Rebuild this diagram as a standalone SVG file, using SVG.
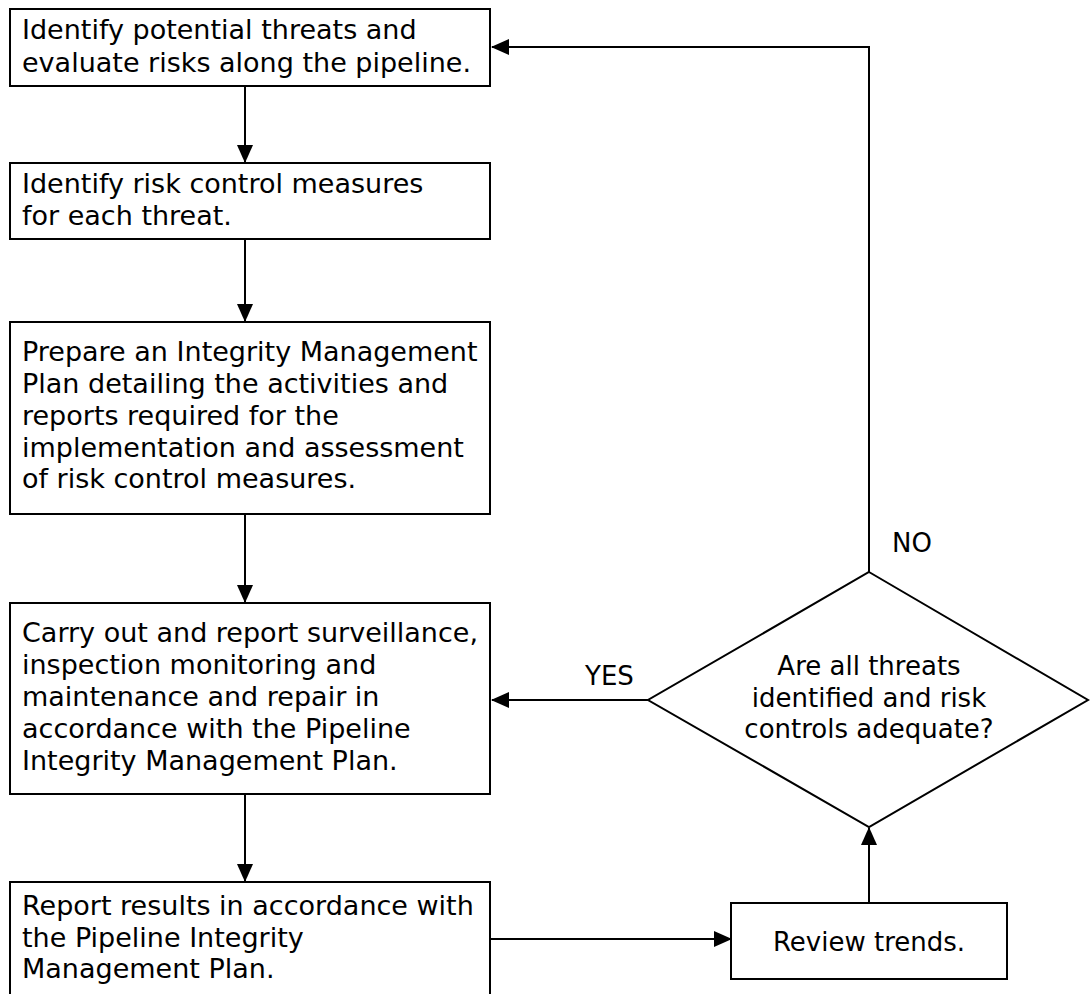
<svg xmlns="http://www.w3.org/2000/svg" width="1090" height="994" viewBox="0 0 1090 994">
  <style>
    .box { fill: #ffffff; stroke: #000000; stroke-width: 2; }
    .txt { font-family: "DejaVu Sans", Verdana, sans-serif; font-size: 27px; fill: #000000; }
    .dtxt { font-family: "DejaVu Sans", Verdana, sans-serif; font-size: 26px; fill: #000000; }
    .edge { fill: none; stroke: #000000; stroke-width: 2; }
  </style>
  <defs>
    <marker id="arrow" viewBox="0 0 18 16" refX="17" refY="8" markerWidth="18" markerHeight="16" markerUnits="userSpaceOnUse" orient="auto">
      <path d="M0,0 L18,8 L0,16 Z" fill="#000000"/>
    </marker>
  </defs>
  <rect width="1090" height="994" fill="#ffffff"/>

  <g id="connectors">
    <path class="edge" d="M245,86 V162" marker-end="url(#arrow)"/>
    <path class="edge" d="M245,239 V321" marker-end="url(#arrow)"/>
    <path class="edge" d="M245,514 V602" marker-end="url(#arrow)"/>
    <path class="edge" d="M245,794 V881" marker-end="url(#arrow)"/>
    <path class="edge" d="M490,939 H731" marker-end="url(#arrow)"/>
    <path class="edge" d="M869,903 V828" marker-end="url(#arrow)"/>
    <path class="edge" d="M648,700 H492" marker-end="url(#arrow)"/>
    <path class="edge" d="M869,572 V47 H492" marker-end="url(#arrow)"/>
    <text class="dtxt" x="585" y="685">YES</text>
    <text class="dtxt" x="892" y="552">NO</text>
  </g>

  <g id="identify-threats">
    <rect class="box" x="10" y="9" width="480" height="77"/>
    <text class="txt" x="22" y="39">Identify potential threats and</text>
    <text class="txt" x="22" y="72">evaluate risks along the pipeline.</text>
  </g>

  <g id="identify-controls">
    <rect class="box" x="10" y="163" width="480" height="76"/>
    <text class="txt" x="22" y="193">Identify risk control measures</text>
    <text class="txt" x="22" y="225">for each threat.</text>
  </g>

  <g id="prepare-plan">
    <rect class="box" x="10" y="322" width="480" height="192"/>
    <text class="txt" x="22" y="361">Prepare an Integrity Management</text>
    <text class="txt" x="22" y="393">Plan detailing the activities and</text>
    <text class="txt" x="22" y="425">reports required for the</text>
    <text class="txt" x="22" y="457">implementation and assessment</text>
    <text class="txt" x="22" y="488">of risk control measures.</text>
  </g>

  <g id="carry-out">
    <rect class="box" x="10" y="603" width="480" height="191"/>
    <text class="txt" x="22" y="642">Carry out and report surveillance,</text>
    <text class="txt" x="22" y="674">inspection monitoring and</text>
    <text class="txt" x="22" y="706">maintenance and repair in</text>
    <text class="txt" x="22" y="738">accordance with the Pipeline</text>
    <text class="txt" x="22" y="770">Integrity Management Plan.</text>
  </g>

  <g id="report-results">
    <rect class="box" x="10" y="882" width="480" height="130"/>
    <text class="txt" x="22" y="915">Report results in accordance with</text>
    <text class="txt" x="22" y="947">the Pipeline Integrity</text>
    <text class="txt" x="22" y="978">Management Plan.</text>
  </g>

  <g id="review-trends">
    <rect class="box" x="731" y="903" width="276" height="76"/>
    <text class="dtxt" x="869" y="951" text-anchor="middle">Review trends.</text>
  </g>

  <g id="decision">
    <polygon class="box" points="869,572 1088,700 869,827 648,700"/>
    <text class="dtxt" x="869" y="675" text-anchor="middle">Are all threats</text>
    <text class="dtxt" x="869" y="707" text-anchor="middle">identified and risk</text>
    <text class="dtxt" x="869" y="738" text-anchor="middle">controls adequate?</text>
  </g>
</svg>
